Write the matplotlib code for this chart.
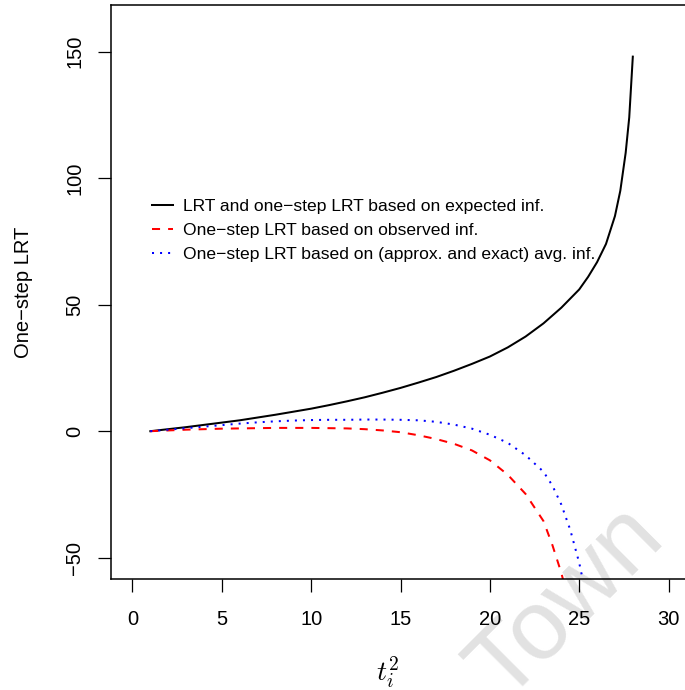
import numpy as np
import matplotlib
matplotlib.use("Agg")
import matplotlib.pyplot as plt

plt.rcParams["font.family"] = ["Liberation Sans", "DejaVu Sans"]
plt.rcParams["mathtext.fontset"] = "cm"

# ── Data ────────────────────────────────────────────────────────
t2_exp = [1, 2, 3, 4, 5, 6, 7, 8, 9, 10, 11, 12, 13, 14, 15, 16, 17, 18,
          19, 20, 21, 22, 23, 24, 25, 25.5, 26, 26.5, 27, 27.3, 27.6, 27.8, 28]
lrt_exp = [0, 0.8, 1.6, 2.5, 3.4, 4.3, 5.4, 6.5, 7.7, 8.9, 10.3, 11.8, 13.4,
           15.2, 17.1, 19.2, 21.4, 23.9, 26.6, 29.5, 33.1, 37.4, 42.6, 48.8,
           56, 61, 66.8, 74, 85, 95, 110, 124, 148]

t2_obs = [1, 2, 3, 4, 5, 6, 7, 8, 9, 10, 11, 12, 13, 14, 15, 16, 17, 18,
          19, 20, 21, 22, 23, 23.5, 24, 24.5]
lrt_obs = [0, 0.3, 0.6, 0.8, 1.0, 1.1, 1.2, 1.3, 1.3, 1.3, 1.2, 1.1, 0.8,
           0.3, -0.4, -1.6, -3.1, -5.0, -7.6, -11.5, -17.2, -24.8, -35.5,
           -45, -56, -70]

t2_avg = [1, 2, 3, 4, 5, 6, 7, 8, 9, 10, 11, 12, 13, 14, 15, 16, 17, 18,
          19, 20, 21, 22, 23, 23.5, 24, 24.5, 25, 25.3]
lrt_avg = [0, 0.6, 1.2, 1.8, 2.4, 3.0, 3.5, 3.9, 4.2, 4.4, 4.5, 4.5, 4.6,
           4.6, 4.5, 4.3, 3.7, 2.6, 1.0, -1.4, -4.6, -9.5, -16, -21.5,
           -29, -39, -52, -62]

labels = ["LRT and one\u2212step LRT based on expected inf.",
          "One\u2212step LRT based on observed inf.",
          "One\u2212step LRT based on (approx. and exact) avg. inf."]

W, H = 685, 690
fig = plt.figure(figsize=(W / 100, H / 100), dpi=100)
fig.patch.set_facecolor("white")

# axes box in pixels: left 111, right ~690, top 5, bottom 579
ax = fig.add_axes([111 / W, 1 - 579 / H, (690 - 111) / W, (579 - 5) / H])
ax.patch.set_alpha(0)

lw = 1.45
ax.plot(t2_exp, lrt_exp, color="black", lw=lw, label=labels[0])
ax.plot(t2_obs, lrt_obs, color="#ff0000", lw=lw, dashes=(4, 4),
        label=labels[1])
ax.plot(t2_avg, lrt_avg, color="#0000ff", lw=lw, dashes=(1, 3),
        label=labels[2])

ax.set_xlim(-1.2, 31.2)
ax.set_ylim(-58.4, 168.4)
ax.set_xticks([0, 5, 10, 15, 20, 25, 30])
ax.set_yticks([-50, 0, 50, 100, 150])
ax.tick_params(axis="both", direction="out", length=9.4, width=0.9,
               labelsize=14.5, color="black")
ax.tick_params(axis="x", pad=13)
ax.tick_params(axis="y", pad=10)
for lab in ax.get_yticklabels():
    lab.set_rotation(90)
    lab.set_va("center")
for sp in ax.spines.values():
    sp.set_linewidth(1.1)

leg = ax.legend(loc="upper left", bbox_to_anchor=(0.0703, 0.663),
                frameon=False, fontsize=12.6, handlelength=1.24,
                handletextpad=0.54, labelspacing=0.51, borderpad=0,
                borderaxespad=0)

fig.text(23.5 / W, 1 - 292 / H, "One\u2212step LRT", rotation=90,
         ha="center", va="center", fontsize=14.5)
fig.text(388 / W, 1 - 672 / H, r"$t_i^2$", ha="center", va="center",
         fontsize=20)

# watermark
fig.text(567 / W, 1 - 603 / H, "Town", rotation=45, ha="center",
         va="center", fontsize=71, color="#e2e2e2", zorder=-1,
         rotation_mode="anchor")

fig.savefig("out.png", dpi=100, facecolor="white")
